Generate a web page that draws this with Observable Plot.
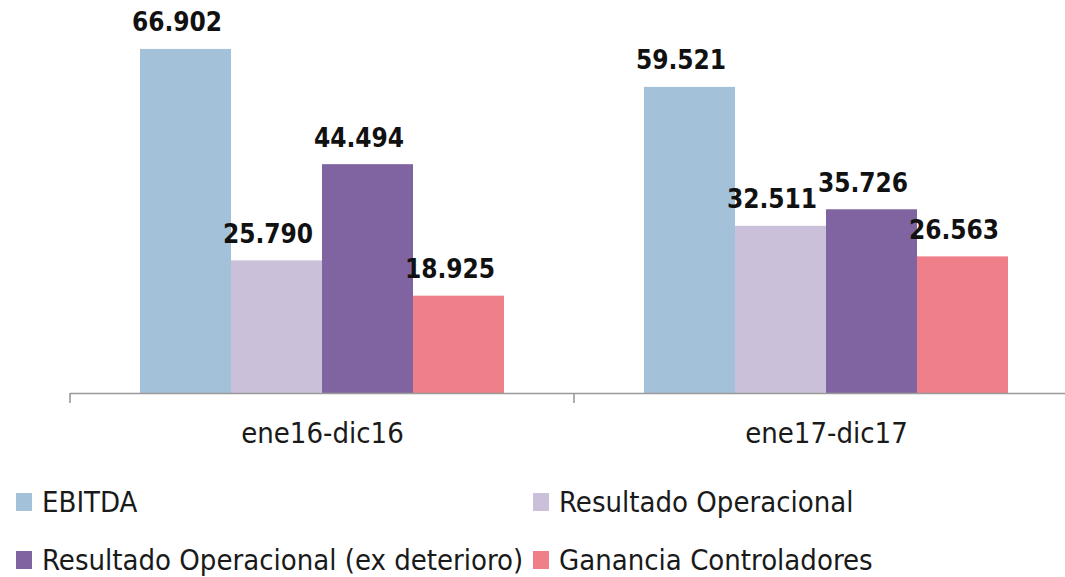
<!DOCTYPE html>
<html>
<head>
<meta charset="utf-8">
<script src="https://cdn.jsdelivr.net/npm/d3@7"></script>
<script src="https://cdn.jsdelivr.net/npm/@observablehq/plot@0.6"></script>
<style>
  body { margin: 0; background: #fff; }
  #chart { width: 1065px; }
  .legend { position: relative; width: 1065px; height: 124px; margin-top: 20px;
            font-family: "DejaVu Sans Condensed", "DejaVu Sans", sans-serif; font-stretch: condensed;
            font-size: 29px; color: #1a1a1a; }
  .legend .item { position: absolute; height: 58px; display: flex; align-items: center; white-space: nowrap; }
  .legend .sw { width: 16px; height: 18px; margin-right: 10px; flex: none; }
</style>
</head>
<body>
<div id="chart"></div>
<script>
const groups = ["ene16-dic16", "ene17-dic17"];
const series = ["EBITDA", "Resultado Operacional", "Resultado Operacional (ex deterioro)", "Ganancia Controladores"];
const values2016 = [66902, 25790, 44494, 18925];
const values2017 = [59521, 32511, 35726, 26563];
const colors = ["#A3C1D9", "#CAC0DA", "#8064A2", "#EF7F88"];
const yDomain = [0, 70000];

const valuesByGroup = [values2016, values2017];
const data = groups.flatMap((g, gi) => series.map((s, si) => ({group: g, series: s, value: valuesByGroup[gi][si]})));

const fmt = d3.formatLocale({decimal: ",", thousands: ".", grouping: [3], currency: ["", ""]}).format(",d");
const fontFam = '"DejaVu Sans Condensed", "DejaVu Sans", sans-serif';

const plot = Plot.plot({
  width: 1065,
  height: 453,
  marginLeft: 70,
  marginRight: -13,
  marginTop: 33,
  marginBottom: 60,
  style: {fontFamily: fontFam, fontSize: "29px", color: "#1a1a1a", background: "#fff", overflow: "visible"},
  facet: {data, x: "group"},
  fx: {domain: groups, padding: 0, label: null, axis: "bottom", tickSize: 0, tickPadding: 29},
  x: {domain: series, axis: null, paddingInner: 0, paddingOuter: 0.75},
  y: {domain: yDomain, axis: null},
  color: {domain: series, range: colors},
  marks: [
    Plot.barY(data, {x: "series", y: "value", fill: "series"}),
    Plot.text(data, {x: "series", y: "value", text: d => fmt(d.value), lineAnchor: "bottom", dy: -18, dx: -9,
      fontWeight: "bold", fontSize: 26, fill: "#111"}),
    Plot.ruleY([0], {stroke: "#9a9a9a", strokeWidth: 1.6})
  ]
});

document.getElementById("chart").appendChild(plot);

// category boundary tick marks at band edges, from the library's scales
const fxs = plot.scale("fx");
const ys = plot.scale("y");
const y0 = ys.apply(0);
const edges = groups.map(g => fxs.apply(g)).concat([fxs.apply(groups[groups.length - 1]) + fxs.bandwidth]);
d3.select(plot).append("g")
  .selectAll("line").data(edges).join("line")
  .attr("x1", d => d).attr("x2", d => d)
  .attr("y1", y0).attr("y2", y0 + 10)
  .attr("stroke", "#9a9a9a").attr("stroke-width", 1.6);

// legend
const legend = d3.select("body").append("div").attr("class", "legend");
const legendPos = [[16, 0], [533, 0], [16, 58], [533, 58]];
series.forEach((s, i) => {
  const it = legend.append("div").attr("class", "item")
    .style("left", legendPos[i][0] + "px").style("top", legendPos[i][1] + "px");
  it.append("div").attr("class", "sw").style("background", colors[i]);
  it.append("span").text(s);
});
</script>
</body>
</html>
